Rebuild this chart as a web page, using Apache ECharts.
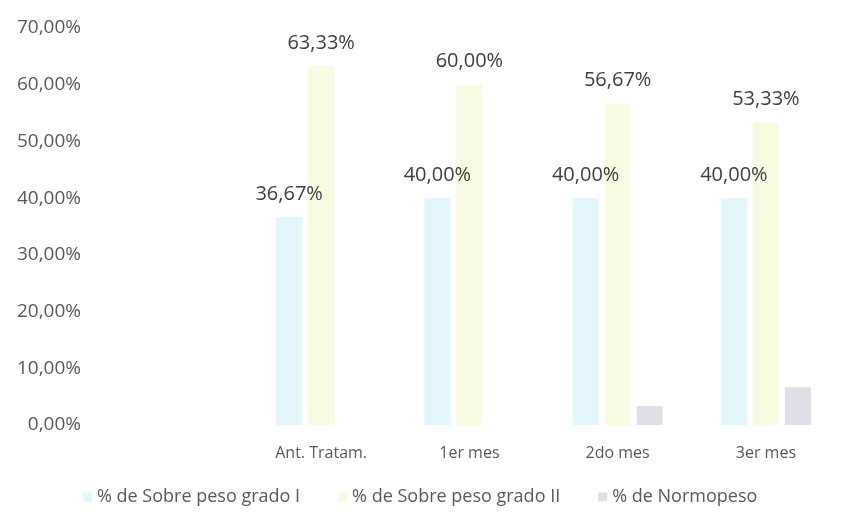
<!DOCTYPE html>
<html>
<head>
<meta charset="utf-8">
<script src="https://cdn.jsdelivr.net/npm/echarts@6/dist/echarts.min.js"></script>
<style>html,body{margin:0;padding:0;background:#fff}#c{width:851px;height:515px}</style>
</head>
<body>
<div id="c"></div>
<script>
var categories = ['Ant. Tratam.', '1er mes', '2do mes', '3er mes'];
var seriesNames = ['% de Sobre peso grado I', '% de Sobre peso grado II', '% de Normopeso'];
var grado1 = [36.67, 40.00, 40.00, 40.00];
var grado2 = [63.33, 60.00, 56.67, 53.33];
var normopeso = [0, 0, 3.33, 6.67];
var yTicks = [0, 10, 20, 30, 40, 50, 60, 70];

function fmt(v) { return v.toFixed(2).replace('.', ',') + '%'; }
var font = '"Open Sans", Lato, sans-serif';
var chart = echarts.init(document.getElementById('c'));
var labelStyle = {
  show: true, position: 'top', distance: 13,
  formatter: function (p) { return fmt(p.value); },
  color: '#404040', fontSize: 20, fontFamily: font
};
chart.setOption({
  animation: false,
  grid: { left: 247, right: 11, top: 28, bottom: 90 },
  legend: {
    bottom: 4, left: 78, itemWidth: 9, itemHeight: 9, itemGap: 38,
    icon: 'rect',
    textStyle: { color: '#595959', fontSize: 18, fontFamily: font },
    data: seriesNames
  },
  xAxis: {
    type: 'category', data: categories,
    axisLine: { show: false }, axisTick: { show: false },
    axisLabel: { color: '#595959', fontSize: 16, fontFamily: font, margin: 20 }
  },
  yAxis: {
    type: 'value', min: yTicks[0], max: yTicks[yTicks.length - 1], interval: 10,
    splitLine: { show: false }, axisLine: { show: false }, axisTick: { show: false },
    axisLabel: { color: '#595959', fontSize: 19, fontFamily: font, margin: 166,
      formatter: function (v) { return fmt(v); } }
  },
  series: [
    { name: seriesNames[0], type: 'bar', data: grado1, barWidth: 26, barGap: '23%',
      itemStyle: { color: '#e2f6fb' }, label: labelStyle },
    { name: seriesNames[1], type: 'bar', data: grado2, barWidth: 26, barGap: '23%',
      itemStyle: { color: '#f6fbe2' }, label: labelStyle },
    { name: seriesNames[2], type: 'bar', data: normopeso, barWidth: 26, barGap: '23%',
      itemStyle: { color: '#dfe0e7' }, label: { show: false } }
  ]
});
</script>
</body>
</html>
